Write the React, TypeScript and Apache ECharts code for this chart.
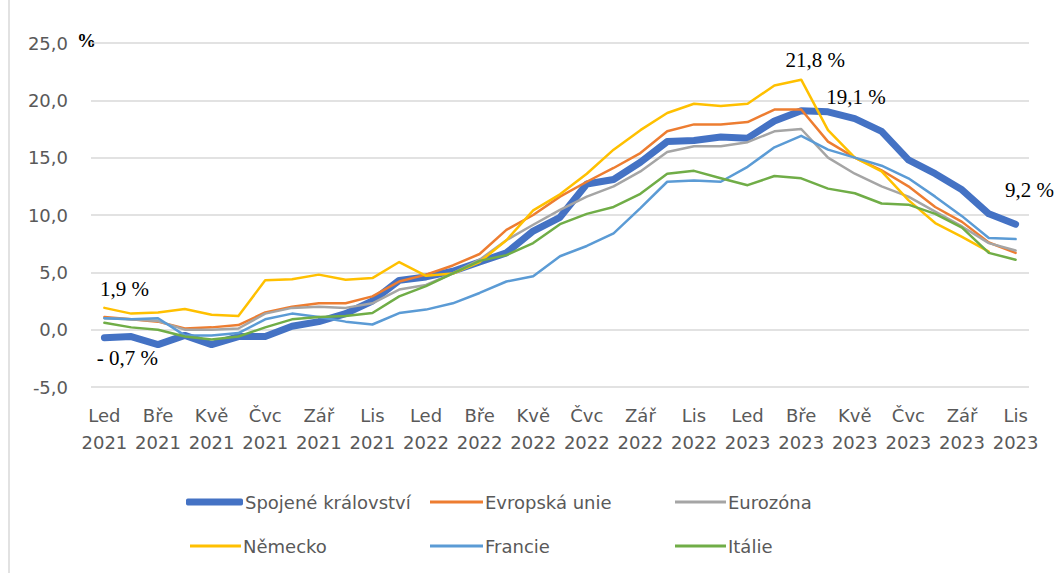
import React, { useEffect, useRef } from "react";
import * as echarts from "echarts";

const monthNames = ["Led", "Úno", "Bře", "Dub", "Kvě", "Čvn", "Čvc", "Srp", "Zář", "Říj", "Lis", "Pro"];
const years = [2021, 2022, 2023];
const monthCount = 35;

const seriesNames = ["Spojené království", "Evropská unie", "Eurozóna", "Německo", "Francie", "Itálie"];
const seriesColors = ["#4472C4", "#ED7D31", "#A5A5A5", "#FFC000", "#5B9BD5", "#70AD47"];

const ukValues = [-0.7, -0.6, -1.3, -0.5, -1.3, -0.6, -0.6, 0.3, 0.7, 1.4, 2.5, 4.3, 4.6, 5.1, 5.9, 6.7, 8.6, 9.8, 12.7, 13.1, 14.6, 16.4, 16.5, 16.8, 16.7, 18.2, 19.1, 19.0, 18.4, 17.3, 14.8, 13.6, 12.2, 10.1, 9.2];
const euValues = [1.1, 0.9, 0.7, 0.1, 0.2, 0.4, 1.5, 2.0, 2.3, 2.3, 2.9, 4.2, 4.8, 5.6, 6.6, 8.7, 10.0, 11.6, 12.9, 14.1, 15.4, 17.3, 17.9, 17.9, 18.1, 19.2, 19.2, 16.4, 15.0, 13.9, 12.5, 10.7, 9.4, 7.6, 6.7];
const euroValues = [1.0, 0.9, 0.75, 0.0, 0.0, 0.1, 1.4, 1.9, 2.0, 1.9, 2.3, 3.5, 3.9, 4.9, 6.1, 7.8, 9.15, 10.45, 11.6, 12.5, 13.8, 15.5, 16.0, 16.0, 16.35, 17.3, 17.5, 15.0, 13.6, 12.5, 11.6, 10.3, 9.0, 7.55, 6.9];
const deValues = [1.9, 1.4, 1.5, 1.8, 1.3, 1.2, 4.3, 4.4, 4.8, 4.35, 4.5, 5.9, 4.7, 4.9, 5.9, 7.8, 10.4, 11.8, 13.6, 15.7, 17.4, 18.9, 19.7, 19.5, 19.7, 21.3, 21.8, 17.4, 15.0, 13.8, 11.3, 9.3, 8.1, 6.8, null];
const frValues = [1.0, 0.9, 1.0, -0.5, -0.5, -0.3, 0.9, 1.4, 1.1, 0.7, 0.45, 1.45, 1.75, 2.3, 3.2, 4.2, 4.65, 6.4, 7.3, 8.4, 10.6, 12.9, 13.0, 12.9, 14.2, 15.9, 16.9, 15.7, 15.0, 14.3, 13.2, 11.6, 9.9, 8.0, 7.9];
const itValues = [0.6, 0.2, 0.0, -0.6, -0.85, -0.6, 0.2, 0.9, 1.1, 1.2, 1.45, 2.9, 3.8, 4.9, 6.0, 6.5, 7.55, 9.2, 10.1, 10.7, 11.85, 13.6, 13.85, 13.2, 12.6, 13.4, 13.2, 12.3, 11.9, 11.0, 10.9, 10.1, 8.9, 6.7, 6.1];

const allValues = [ukValues, euValues, euroValues, deValues, frValues, itValues];

// annotations: series index, month index, text
const annotations = [
  { s: 3, i: 0, text: "1,9 %", offset: [20, -19] },
  { s: 0, i: 0, text: "- 0,7 %", offset: [23, 20] },
  { s: 3, i: 26, text: "21,8 %", offset: [14, -20] },
  { s: 0, i: 27, text: "19,1 %", offset: [28, -15] },
  { s: 0, i: 34, text: "9,2 %", offset: [14, -34] },
];

const categories: string[] = [];
for (let k = 0; k < monthCount; k++) {
  const y = years[Math.floor(k / 12)];
  categories.push(`${monthNames[k % 12]}\n${y}`);
}

const FONT = "'DejaVu Sans', sans-serif";
const SERIF = "'Liberation Serif', 'Times New Roman', serif";

// legend layout: [left, top, itemWidth] per series
const legendPos = [
  [181, 487, 57],
  [425, 487, 53],
  [670, 487, 51],
  [185, 531, 51],
  [425, 531, 53],
  [670, 531, 51],
];

export default function App() {
  const ref = useRef<HTMLDivElement>(null);
  useEffect(() => {
    if (!ref.current) return;
    const chart = echarts.init(ref.current, null, { renderer: "svg" });
    const series = seriesNames.map((name, si) => {
      const marks = annotations
        .filter((a) => a.s === si)
        .map((a) => ({
          coord: [a.i, allValues[si][a.i]],
          value: allValues[si][a.i],
          label: { formatter: a.text, offset: a.offset },
        }));
      return {
        name,
        type: "line",
        data: allValues[si],
        symbol: "none",
        z: si === 0 ? 1 : 2,
        lineStyle: {
          color: seriesColors[si],
          width: si === 0 ? 7 : 2.5,
          cap: "round",
          join: "round",
        },
        itemStyle: { color: seriesColors[si] },
        markPoint: marks.length
          ? {
              symbol: "circle",
              symbolSize: 2,
              itemStyle: { color: "rgba(0,0,0,0)" },
              label: {
                show: true,
                position: "inside",
                color: "#000",
                fontFamily: SERIF,
                fontSize: 21,
              },
              data: marks,
            }
          : undefined,
      };
    });
    const legends = seriesNames.map((name, si) => ({
      orient: "horizontal",
      left: legendPos[si][0],
      top: legendPos[si][1],
      itemWidth: legendPos[si][2],
      itemHeight: si === 0 ? 7 : 3,
      icon: si === 0 ? "roundRect" : "rect",
      itemStyle: { color: seriesColors[si] },
      data: [name],
      textStyle: { color: "#595959", fontSize: 18, fontFamily: FONT, lineHeight: 20, padding: [0, 0, 0, -3] },
    }));
    const option = {
      animation: false,
      grid: { left: 91, right: 28, top: 43, bottom: 186 },
      xAxis: {
        type: "category",
        data: categories,
        boundaryGap: true,
        axisLine: { show: false },
        axisTick: { show: false },
        axisLabel: {
          interval: 1,
          color: "#595959",
          fontSize: 18,
          fontFamily: FONT,
          lineHeight: 27,
          margin: 15,
        },
      },
      yAxis: {
        type: "value",
        min: -5,
        max: 25,
        interval: 5,
        axisLine: { show: false },
        axisTick: { show: false },
        splitLine: { lineStyle: { color: "#D9D9D9", width: 1.5 } },
        axisLabel: {
          color: "#595959",
          fontSize: 18,
          fontFamily: FONT,
          margin: 23,
          formatter: (v: number) => v.toFixed(1).replace(".", ","),
        },
      },
      legend: legends,
      graphic: [
        {
          type: "line",
          shape: { x1: 9, y1: 0, x2: 9, y2: 573 },
          style: { stroke: "#D9D9D9", lineWidth: 1.5 },
        },
        {
          type: "text",
          left: 77,
          top: 31,
          style: { text: "%", fill: "#000", font: `bold 19px ${SERIF}` },
        },
      ],
      series,
    };
    chart.setOption(option as any);
    return () => chart.dispose();
  }, []);
  return <div ref={ref} style={{ width: 1057, height: 573, position: "absolute", left: 0, top: 0 }} />;
}
